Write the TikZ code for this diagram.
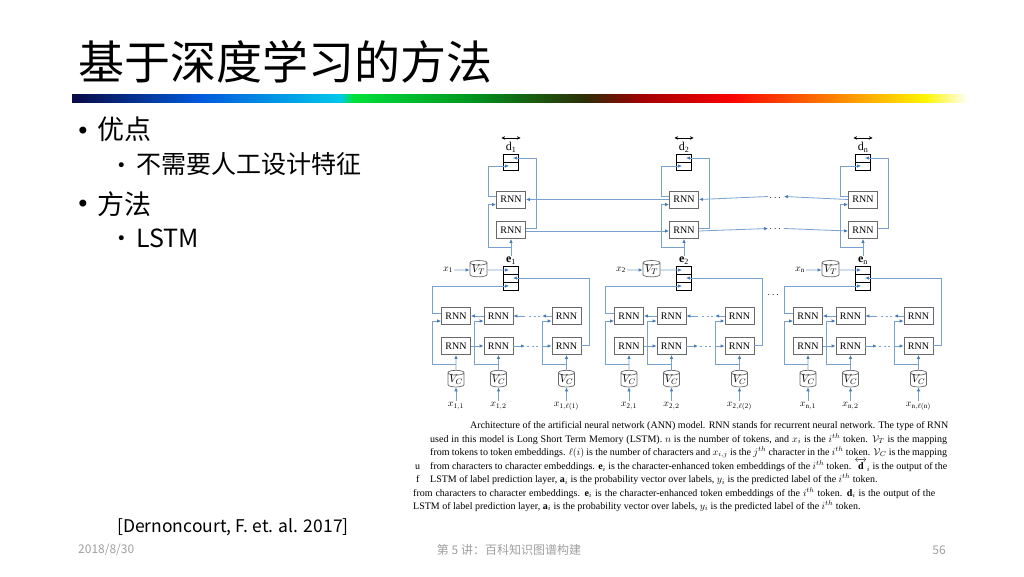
\documentclass[tikz,border=0pt]{standalone}
\usepackage{fontspec}
\usepackage{amsmath}
\setmainfont{Liberation Serif}
\newfontfamily\cjk{Noto Sans CJK SC}
\newfontfamily\dejavu{DejaVu Sans}
\usetikzlibrary{arrows.meta,shapes.geometric}
\definecolor{wireblue}{RGB}{120,162,205}
\definecolor{tipblue}{RGB}{70,125,185}
\definecolor{boxgray}{RGB}{105,105,105}
\definecolor{footgray}{RGB}{160,160,160}
\definecolor{barA}{RGB}{10,10,70}
\definecolor{barB}{RGB}{0,90,220}
\definecolor{barC}{RGB}{0,200,235}
\definecolor{barD}{RGB}{0,225,60}
\definecolor{barE}{RGB}{0,150,30}
\definecolor{barF}{RGB}{45,45,5}
\definecolor{barG}{RGB}{160,0,0}
\definecolor{barH}{RGB}{250,0,0}
\definecolor{barI}{RGB}{255,150,0}
\definecolor{barJ}{RGB}{255,245,0}
\tikzset{
  rnn/.style={draw=boxgray, line width=0.7pt, fill=white, minimum width=29pt, minimum height=17pt, inner sep=0pt, font=\fontsize{10}{10}\selectfont},
  cell/.style={draw=black, line width=0.8pt, minimum width=15pt, minimum height=8pt, inner sep=0pt},
  vcyl/.style={cylinder, shape border rotate=90, aspect=0.35, draw=boxgray, line width=0.7pt, fill=white, minimum width=16pt, minimum height=16pt, inner sep=0pt, font=\fontsize{11}{11}\selectfont},
  vlab/.style={font=\fontsize{10}{10}\selectfont, inner sep=1pt},
  dots/.style={font=\fontsize{10}{10}\selectfont, inner sep=1pt},
  wire/.style={draw=wireblue, line width=0.8pt},
  flow/.style={wire, -{Latex[length=4pt,width=3.4pt,color=tipblue]}},
  gapline/.style={wire, dash pattern=on 2pt off 2.5pt, shorten <=2pt, shorten >=2pt},
  bidir/.style={line width=0.8pt, {Stealth[length=3.5pt,width=3.5pt]}-{Stealth[length=3.5pt,width=3.5pt]}},
  slide/.style={anchor=west, inner sep=0pt},
  bullet/.style={inner sep=0pt},
  capline/.style={anchor=base west, inner sep=0pt, font=\fontsize{10}{10}\selectfont},
  foot/.style={inner sep=0pt, text=footgray, font=\cjk\fontsize{12}{12}\selectfont},
}
\begin{document}
\begin{tikzpicture}[x=1pt, y=-1pt]
\useasboundingbox (0,0) rectangle (1024,576);
\fill[white] (0,0) rectangle (1024,576);
% title and colour bar
\node[slide, font=\cjk\fontsize{46}{46}\selectfont] (title) at (78,62) {基于深度学习的方法};
\shade[left color=barA, right color=barB] (72,94) rectangle (200.5,102);
\shade[left color=barB, right color=barC] (200,94) rectangle (340.5,102);
\shade[left color=barC, right color=barD] (340,94) rectangle (352.5,102);
\shade[left color=barD, right color=barE] (352,94) rectangle (470.5,102);
\shade[left color=barE, right color=barF] (470,94) rectangle (585.5,102);
\shade[left color=barF, right color=barG] (585,94) rectangle (640.5,102);
\shade[left color=barG, right color=barH] (640,94) rectangle (730.5,102);
\shade[left color=barH, right color=barI] (730,94) rectangle (850.5,102);
\shade[left color=barI, right color=barJ] (850,94) rectangle (925.5,102);
\shade[left color=barJ, right color=white] (925,94) rectangle (968,102);
% bullets
\node[bullet, font=\dejavu\fontsize{24}{24}\selectfont] (b1) at (83,133) {•};
\node[slide, font=\cjk\fontsize{27}{27}\selectfont] (t1) at (97,129) {优点};
\node[bullet, font=\dejavu\fontsize{17}{17}\selectfont] (b2) at (121.5,167) {•};
\node[slide, font=\cjk\fontsize{25}{25}\selectfont] (t2) at (136,164) {不需要人工设计特征};
\node[bullet, font=\dejavu\fontsize{24}{24}\selectfont] (b3) at (83,206) {•};
\node[slide, font=\cjk\fontsize{27}{27}\selectfont] (t3) at (97,204) {方法};
\node[bullet, font=\dejavu\fontsize{17}{17}\selectfont] (b4) at (121.5,240) {•};
\node[slide, font=\cjk\fontsize{25}{25}\selectfont] (t4) at (136,238) {LSTM};
\node[slide, font=\cjk\fontsize{17.5}{17.5}\selectfont] (ref) at (117,527) {[Dernoncourt, F. et. al. 2017]};
% footer
\node[foot, anchor=west] (date) at (78,550) {2018/8/30};
\node[foot] (lect) at (509,550) {第 5 讲：百科知识图谱构建};
\node[foot, anchor=east] (page) at (946,550) {56};
% network, one column per token
\foreach \X/\i in {511/1, 684/2, 863/n}{
  % label prediction layer
  \node[cell] (dt\i) at (\X,158) {};
  \node[cell] (db\i) at (\X,166) {};
  \node[anchor=south, inner sep=1pt, font=\fontsize{12}{12}\selectfont] (dl\i) at (\X,153.5) {$\mathrm{d}_{\mathrm{\i}}$};
  \draw[bidir] ([xshift=-9.5pt,yshift=3pt]dl\i.north) -- ([xshift=9.5pt,yshift=3pt]dl\i.north);
  \node[rnn] (ru\i) at (\X,199.5) {RNN};
  \node[rnn] (rl\i) at (\X,230) {RNN};
  % token layer
  \node[cell] (ea\i) at (\X,270) {};
  \node[cell] (eb\i) at (\X,278) {};
  \node[cell] (ec\i) at (\X,286) {};
  \node[anchor=south, inner sep=1pt, font=\fontsize{12}{12}\selectfont] (el\i) at (\X,265.5) {$\mathbf{e}_{\mathrm{\i}}$};
  \node[vlab] (x\i) at (\X-63,270) {$x_{\mathrm{\i}}$};
  \node[vcyl, minimum width=17pt, minimum height=15pt] (vt\i) at (\X-32.5,270) {$V_T$};
  \coordinate (ej\i) at (\X,247);
  \draw[flow] (el\i.north) -- (rl\i.south);
  \draw[flow] (ej\i) -- ++(-23,0) |- ([yshift=-5pt]ru\i.west);
  \draw[flow] ([yshift=2pt]rl\i.east) -- ++(11,0) |- ([xshift=-6pt]dt\i.east);
  \draw[flow] ([yshift=3pt]ru\i.west) -- ++(-8,0) |- ([xshift=6pt]db\i.west);
  \draw[flow] (x\i) -- (vt\i);
  \draw[flow] (vt\i.east) -- ([xshift=6pt]ea\i.west);
  % character layer
  \foreach \dx/\k/\lab in {-55/1/1, -12.5/2/2, 55.5/3/{\ell(\mathrm{\i})}}{
    \node[rnn] (cu\i-\k) at (\X+\dx,316) {RNN};
    \node[rnn] (cl\i-\k) at (\X+\dx,346) {RNN};
    \node[vcyl] (vc\i-\k) at (\X+\dx,380) {$V_C$};
    \node[vlab] (xc\i-\k) at (\X+\dx,406) {$x_{\mathrm{\i},\lab}$};
    \coordinate (vj\i-\k) at (\X+\dx,364);
    \draw[flow] (xc\i-\k) -- (vc\i-\k);
    \draw[flow] (vc\i-\k) -- (cl\i-\k);
    \draw[flow] (vj\i-\k) -- ++(-24,0) |- ([yshift=-5pt]cu\i-\k.west);
  }
  \coordinate (ga\i) at (\X+31,316);
  \coordinate (gb\i) at (\X+14,316);
  \coordinate (gc\i) at (\X+14,346);
  \coordinate (gd\i) at (\X+31,346);
  \draw[flow] (cu\i-2.west) -- (cu\i-1.east);
  \draw[flow] (cu\i-3.west) -- (ga\i);
  \draw[gapline] (ga\i) -- (gb\i);
  \draw[flow] (gb\i) -- (cu\i-2.east);
  \draw[flow] (cl\i-1.east) -- (cl\i-2.west);
  \draw[flow] (cl\i-2.east) -- (gc\i);
  \draw[gapline] (gc\i) -- (gd\i);
  \draw[flow] (gd\i) -- (cl\i-3.west);
  \draw[flow] ([yshift=1pt]cl\i-3.east) -- ++(8,0) |- ([xshift=-6pt]eb\i.east);
  \draw[flow] ([yshift=3pt]cu\i-1.west) -- ++(-9,0) |- ([xshift=6pt]ec\i.west);
}
% links between tokens
\node[dots] (tdu) at (776,198) {$\cdots$};
\node[dots] (tdl) at (776,229) {$\cdots$};
\node[dots] (tdm) at (774,295) {$\cdots$};
\draw[flow] (ru2.west) -- (ru1.east);
\draw[flow] (run.west) -- ([yshift=1.5pt]tdu.east);
\draw[flow] ([yshift=1.5pt]tdu.west) -- (ru2.east);
\draw[flow] ([yshift=-1pt]rl1.east) -- ([yshift=-1pt]rl2.west);
\draw[flow] ([yshift=-1pt]rl2.east) -- ([yshift=0.5pt]tdl.west);
\draw[flow] ([yshift=0.5pt]tdl.east) -- ([yshift=-1pt]rln.west);
% caption
\node[capline] (cap1) at (470,428) {\makebox[478pt][s]{Architecture of the artificial neural network (ANN) model. RNN stands for recurrent neural network. The type of RNN}};
\node[capline] (cap2) at (430,442) {\makebox[517pt][s]{used in this model is Long Short Term Memory (LSTM). $n$ is the number of tokens, and $x_i$ is the $i^{th}$ token. $\mathcal{V}_T$ is the mapping}};
\node[capline] (cap3) at (430,455) {\makebox[517pt][s]{from tokens to token embeddings. $\ell(i)$ is the number of characters and $x_{i,j}$ is the $j^{th}$ character in the $i^{th}$ token. $\mathcal{V}_C$ is the mapping}};
\node[capline] (cap4) at (430,469.5) {\makebox[517pt][s]{from characters to character embeddings. $\mathbf{e}_i$ is the character-enhanced token embeddings of the $i^{th}$ token. $\overleftrightarrow{\mathbf{d}}_i$ is the output of the}};
\node[capline] (cap5) at (430,482.5) {LSTM of label prediction layer, $\mathbf{a}_i$ is the probability vector over labels, $y_i$ is the predicted label of the $i^{th}$ token.};
\node[capline] (capu) at (415,469.5) {u};
\node[capline] (capf) at (416,482.5) {f};
\node[capline] (cap6) at (413,496) {\makebox[522pt][s]{from characters to character embeddings. $\mathbf{e}_i$ is the character-enhanced token embeddings of the $i^{th}$ token. $\mathbf{d}_i$ is the output of the}};
\node[capline] (cap7) at (413,509) {LSTM of label prediction layer, $\mathbf{a}_i$ is the probability vector over labels, $y_i$ is the predicted label of the $i^{th}$ token.};
\end{tikzpicture}
\end{document}
